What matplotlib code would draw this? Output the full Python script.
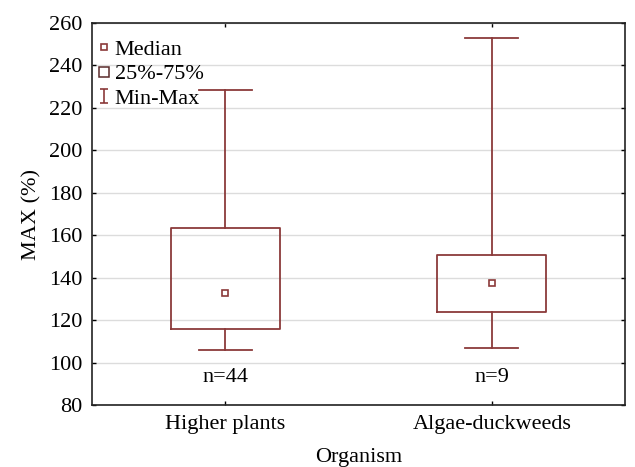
import matplotlib
matplotlib.use("Agg")
import matplotlib.pyplot as plt
from matplotlib.lines import Line2D
from matplotlib.path import Path

# data
categories = ["Higher plants", "Algae-duckweeds"]
counts = [44, 9]
mins = [106, 107]
q1s = [116, 124]
medians = [133, 137.5]
q3s = [163.5, 150.5]
maxs = [228.5, 253]

RED = "#8b3a3a"

plt.rcParams["font.family"] = ["Liberation Serif", "DejaVu Serif"]
plt.rcParams["font.size"] = 16

fig = plt.figure(figsize=(6.35, 4.67), dpi=100)
ax = fig.add_axes([92 / 635, 1 - 405 / 467, 533 / 635, 382 / 467])

stats = []
for i, name in enumerate(categories):
    stats.append(dict(label=name, med=medians[i], q1=q1s[i], q3=q3s[i],
                      whislo=mins[i], whishi=maxs[i], fliers=[]))

positions = list(range(len(categories)))
ax.bxp(stats, positions=positions, widths=0.41, showfliers=False,
       boxprops=dict(color=RED, linewidth=1.3),
       whiskerprops=dict(color=RED, linewidth=1.3),
       capprops=dict(color=RED, linewidth=1.3),
       medianprops=dict(visible=False),
       capwidths=0.2, zorder=3)
ax.plot(positions, medians, linestyle="none", marker="s", markersize=4,
        markerfacecolor="white", markeredgecolor=RED, markeredgewidth=1.2, zorder=4)

for p, n in zip(positions, counts):
    ax.text(p, 93, "n=%d" % n, ha="center", va="center", fontsize=16)

ax.set_xlim(-0.5, 1.5)
ax.set_ylim(80, 260)
ax.set_yticks(range(80, 261, 20))
ax.set_xticks(positions)
ax.set_xticklabels(categories)
ax.yaxis.grid(True, color="#dcdcdc", linewidth=1, zorder=0)
ax.set_axisbelow(True)
ax.tick_params(direction="in", length=3, width=1, top=True, right=True, labelsize=16, pad=7)
for s in ax.spines.values():
    s.set_linewidth(1.2)
    s.set_color("#222222")

ax.set_xlabel("Organism", fontsize=16, labelpad=10)
ax.set_ylabel("MAX (%)", fontsize=16, labelpad=5)

# legend handles
ibeam = Path([(-0.6, -1), (0.6, -1), (0, -1), (0, 1), (-0.6, 1), (0.6, 1)],
             [Path.MOVETO, Path.LINETO, Path.MOVETO, Path.LINETO, Path.MOVETO, Path.LINETO])
handles = [
    Line2D([], [], linestyle="none", marker="s", markersize=4, markerfacecolor="white",
           markeredgecolor=RED, markeredgewidth=1.2),
    Line2D([], [], linestyle="none", marker="s", markersize=7, markerfacecolor="white",
           markeredgecolor="#5a2a2a", markeredgewidth=1.1),
    Line2D([], [], linestyle="none", marker=ibeam, markersize=10, markerfacecolor="none",
           markeredgecolor=RED, markeredgewidth=1.2),
]
ax.legend(handles, ["Median", "25%-75%", "Min-Max"], loc="upper left", frameon=False,
          fontsize=16, handlelength=0.5, handletextpad=0.25, borderaxespad=0,
          labelspacing=0.19, borderpad=0, bbox_to_anchor=(6 / 533, 1 - 16 / 382))

fig.savefig("out.png", dpi=100)
